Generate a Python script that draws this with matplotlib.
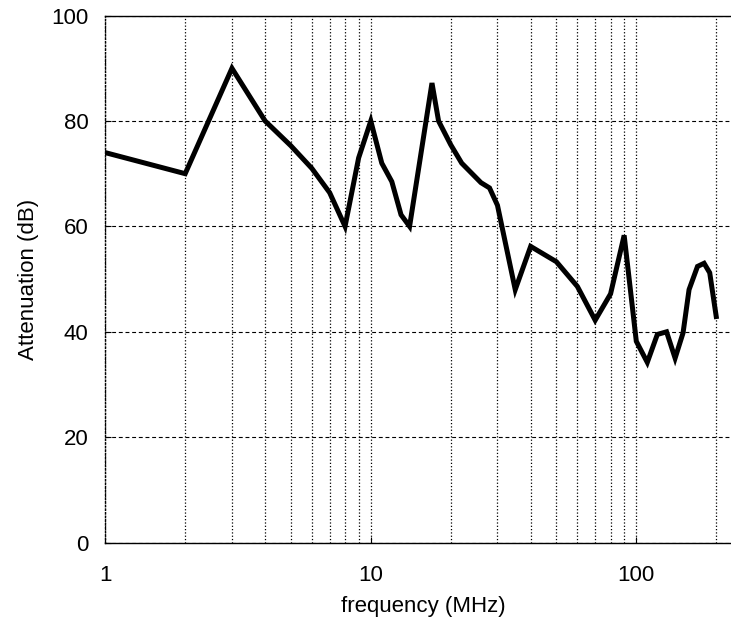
import matplotlib
matplotlib.use("Agg")
import matplotlib.pyplot as plt
from matplotlib.ticker import FixedLocator, NullFormatter

plt.rcParams['font.family'] = ['Liberation Sans', 'DejaVu Sans']

# attenuation vs frequency
freq = [1, 2, 3, 4, 5, 6, 7, 8, 9, 10, 11, 12, 13, 14, 17, 18, 20, 22, 26, 28,
        30, 35, 40, 50, 60, 70, 80, 90, 100, 110, 120, 130, 140, 150, 158,
        170, 180, 189, 200]
atten = [74, 70, 90, 80, 75.3, 71, 66.4, 60, 73, 80, 72, 68.5, 62.2, 60, 87.2,
         80, 75.5, 72, 68.3, 67.3, 64, 48, 56.2, 53.3, 48.6, 42.2, 47.2, 58.3,
         38.2, 34.2, 39.5, 40, 35, 39.8, 48, 52.4, 53, 51.2, 42.9]

xmajor = [1, 10, 100]
xminor = [2, 3, 4, 5, 6, 7, 8, 9, 20, 30, 40, 50, 60, 70, 80, 90, 200]
yticks = [0, 20, 40, 60, 80, 100]

fs = 16

fig = plt.figure(figsize=(7.31, 6.23), dpi=100)
ax = fig.add_axes([0.144, 0.129, 0.871, 0.846])

ax.plot(freq, atten, color='black', lw=3.6, solid_joinstyle='miter')

ax.set_xscale('log')
ax.set_xlim(1, 250)
ax.set_ylim(0, 100)
ax.xaxis.set_major_locator(FixedLocator(xmajor))
ax.xaxis.set_minor_locator(FixedLocator(xminor))
ax.xaxis.set_minor_formatter(NullFormatter())
ax.set_xticklabels(['1', '10', '100'])
ax.set_yticks(yticks)

ax.grid(True, axis='x', which='both', ls=':', color='black', lw=0.9)
ax.grid(True, axis='y', which='major', ls='--', color='black', lw=0.8,
        dashes=(3.5, 2.5))

ax.tick_params(axis='both', which='major', direction='in', length=4,
               labelsize=fs)
ax.tick_params(axis='x', which='major', pad=16)
ax.tick_params(axis='x', which='minor', length=0)
ax.tick_params(axis='y', pad=12)

ax.spines['right'].set_visible(False)
ax.spines['left'].set_linestyle(':')
for s in ['top', 'bottom', 'left']:
    ax.spines[s].set_linewidth(1.0)

ax.set_xlabel('frequency (MHz)', fontsize=fs, labelpad=7)
ax.set_ylabel('Attenuation (dB)', fontsize=fs, labelpad=9)

fig.savefig('out.png', dpi=100)
